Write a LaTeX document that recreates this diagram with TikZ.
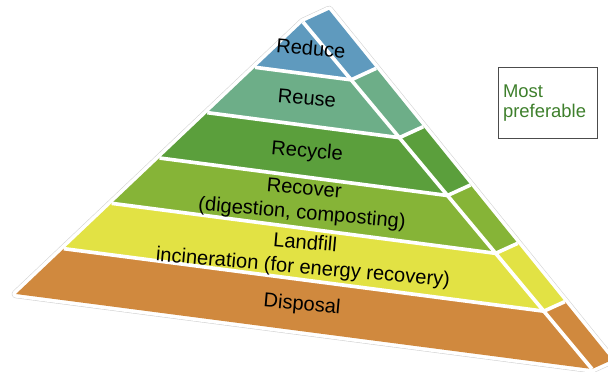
\documentclass[tikz,border=0pt]{standalone}
\usepackage{fontspec}
\setmainfont{Liberation Sans}
\usetikzlibrary{calc}

\definecolor{reducec}{HTML}{5F9ABE}
\definecolor{reusec}{HTML}{6DAE88}
\definecolor{recyclec}{HTML}{5B9F3C}
\definecolor{recoverc}{HTML}{86B437}
\definecolor{landfillc}{HTML}{E2E244}
\definecolor{disposalc}{HTML}{D0893E}
\definecolor{prefgreen}{HTML}{3E7F2C}

\begin{document}
\begin{tikzpicture}[x=0.025cm,y=-0.025cm,
    tier/.style={font=\fontsize{14.3}{17.6}\selectfont, rotate=-5, align=center, inner sep=0pt},
    gap/.style={white, line width=2.6pt}]
    \useasboundingbox (0,0) rectangle (608,371);
    \clip (0,0) rectangle (608,371);
    % corners: front face t-l-r, side face runs from p down to q
    \coordinate (t) at (303,22);
    \coordinate (l) at (16,294);
    \coordinate (r) at (592,369);
    \coordinate (p) at (329,10);
    \coordinate (q) at (612,360);
    \def\outline{(t) -- (l) -- (r) -- (q) -- (p) -- cycle}
    % thin grey rim round the pyramid
    \draw[gray!35, line width=6pt, line join=round] \outline;
    \draw[white, line width=5.2pt, line join=round] \outline;
    % the six tiers, top to bottom
    \foreach \c [count=\k from 0] in {reducec,reusec,recyclec,recoverc,landfillc,disposalc} {
        \pgfmathsetmacro\ta{\k/6}
        \pgfmathsetmacro\tb{(\k+1)/6}
        \fill[\c] ($(t)!\ta!(l)$) -- ($(t)!\tb!(l)$) -- ($(t)!\tb!(r)$)
            -- ($(p)!\tb!(q)$) -- ($(p)!\ta!(q)$) -- ($(t)!\ta!(r)$) -- cycle;
    }
    % white gaps between tiers and between the two faces
    \draw[gap] (t) -- (r);
    \foreach \k in {1,...,5}
        \draw[gap] ($(t)!\k/6!(l)$) -- ($(t)!\k/6!(r)$) -- ($(p)!\k/6!(q)$);
    % tier names
    \node[tier] (reduce) at (311,48) {Reduce};
    \node[tier] (reuse) at (307,98) {Reuse};
    \node[tier] (recycle) at (307,152) {Recycle};
    \node[tier] (recover) at (303,202) {Recover\\(digestion, composting)};
    \node[tier] (landfill) at (304,256) {Landfill\\incineration (for energy recovery)};
    \node[tier] (disposal) at (302,305) {Disposal};
    % key box
    \node[draw=gray!60!black, line width=0.7pt, text=prefgreen, align=left,
        font=\fontsize{13.1}{14.4}\selectfont, text width=63.2pt, inner xsep=3.6pt,
        minimum height=49.8pt] (pref) at (547.5,103) {Most\\preferable};
\end{tikzpicture}
\end{document}
